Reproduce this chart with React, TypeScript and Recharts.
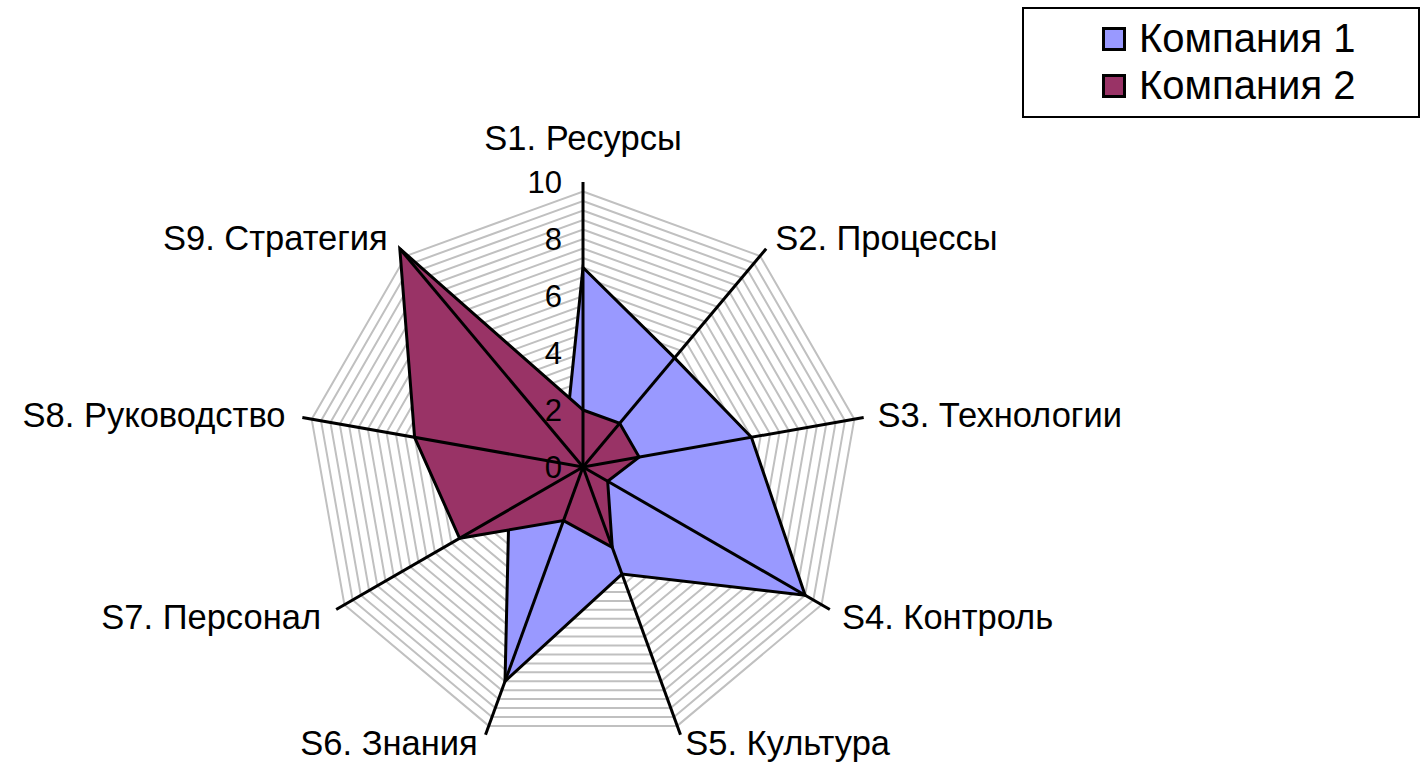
import React from 'react';
import { RadarChart, Radar, PolarGrid, PolarAngleAxis, PolarRadiusAxis, Legend } from 'recharts';

const categories = [
  'S1. Ресурсы',
  'S2. Процессы',
  'S3. Технологии',
  'S4. Контроль',
  'S5. Культура',
  'S6. Знания',
  'S7. Персонал',
  'S8. Руководство',
  'S9. Стратегия',
];
const company1 = [7, 5, 6, 9, 4, 8, 3, 2, 1];
const company2 = [2, 2, 2, 1, 3, 2, 5, 6, 10];
const seriesNames = ['Компания 1', 'Компания 2'];
const seriesColors = ['#9999FF', '#993366'];
const radiusTicks = [0, 2, 4, 6, 8, 10];

const data = categories.map((name, i) => ({ name, c1: company1[i], c2: company2[i] }));

const CX = 583;
const CY = 467;
const R = 285;
const FONT = '"Liberation Sans", Arial, sans-serif';

// minor gridlines every 1/3 of a unit
const gridRadii = Array.from({ length: 29 }, (_, i) => ((i + 1) / 3) * (R / 10));

// category label + the black spoke for that category (drawn above the filled areas)
const AngleTick = (props: any) => {
  const { payload } = props;
  const a = (payload.coordinate * Math.PI) / 180;
  const cos = Math.cos(a);
  const sin = Math.sin(a);
  let x = CX;
  let y = CY - R - 44;
  let anchor = 'middle';
  if (Math.abs(cos) > 0.01) {
    const r = R + 14;
    x = CX + r * cos + (cos > 0 ? 0 : -3);
    y = Math.min(CY - r * sin, 743);
    anchor = cos > 0 ? 'start' : 'end';
  }
  return (
    <g>
      <line x1={CX} y1={CY} x2={CX + R * cos} y2={CY - R * sin} stroke="#000" strokeWidth={3} />
      <text x={x} y={y} textAnchor={anchor} dominantBaseline="central" fontSize={34.5} fontFamily={FONT} fill="#000">
        {payload.value}
      </text>
    </g>
  );
};

const RadiusTick = (props: any) => {
  const { x, y, payload } = props;
  return (
    <text x={x - 21} y={y} textAnchor="end" dominantBaseline="central" fontSize={31} fontFamily={FONT} fill="#000">
      {payload.value}
    </text>
  );
};

const renderLegend = (props: any) => {
  const { payload = [] } = props;
  return (
    <div
      style={{
        width: 398,
        height: 111,
        boxSizing: 'border-box',
        border: '2px solid #000',
        background: '#fff',
        paddingTop: 6,
        fontFamily: FONT,
        fontSize: 40,
        color: '#000',
      }}
    >
      {payload.map((entry: any, i: number) => (
        <div key={entry.value} style={{ display: 'flex', alignItems: 'center', height: 47, paddingLeft: 78 }}>
          <span
            style={{
              display: 'inline-block',
              width: 24,
              height: 24,
              boxSizing: 'border-box',
              border: '3px solid #000',
              background: seriesColors[i],
              marginRight: 13,
            }}
          />
          <span>{entry.value}</span>
        </div>
      ))}
    </div>
  );
};

const App: React.FC = () => {
  return (
    <div style={{ position: 'absolute', left: 0, top: 0, width: 1422, height: 765, background: '#fff' }}>
      <RadarChart
        width={1422}
        height={765}
        data={data}
        cx={CX}
        cy={CY}
        outerRadius={R}
        margin={{ top: 0, right: 0, bottom: 0, left: 0 }}
      >
        <PolarGrid gridType="polygon" polarRadius={gridRadii} radialLines={false} stroke="#C0C0C0" strokeWidth={2} />
        <Radar
          name={seriesNames[0]}
          dataKey="c1"
          stroke="#000"
          strokeWidth={3}
          fill={seriesColors[0]}
          fillOpacity={1}
          isAnimationActive={false}
        />
        <Radar
          name={seriesNames[1]}
          dataKey="c2"
          stroke="#000"
          strokeWidth={3}
          fill={seriesColors[1]}
          fillOpacity={1}
          isAnimationActive={false}
        />
        <PolarAngleAxis dataKey="name" tick={AngleTick} tickLine={false} axisLine={false} />
        <PolarRadiusAxis
          angle={90}
          type="number"
          domain={[0, 10]}
          ticks={radiusTicks}
          tick={RadiusTick}
          tickLine={false}
          axisLine={false}
        />
        <Legend
          layout="vertical"
          align="right"
          verticalAlign="middle"
          content={renderLegend}
          wrapperStyle={{ left: 1022, top: 7, right: 'auto', width: 398 }}
        />
      </RadarChart>
    </div>
  );
};

export default App;
